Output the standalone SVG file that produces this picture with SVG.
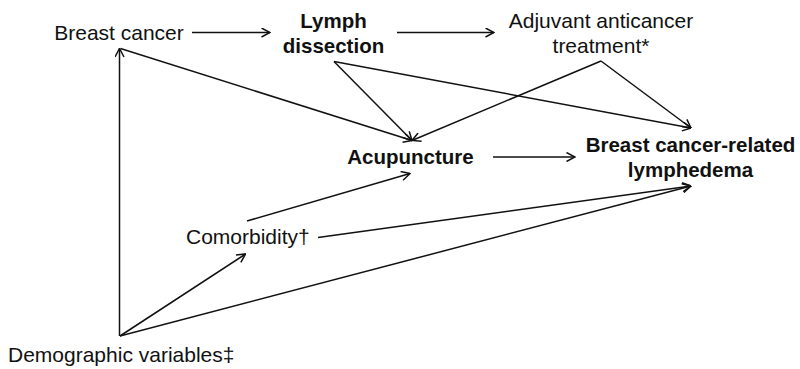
<svg xmlns="http://www.w3.org/2000/svg" width="800" height="369" viewBox="0 0 800 369">
<style>
.t{font-family:"Liberation Sans",Arial,Helvetica,sans-serif;font-size:21px;fill:#111;}
.b{font-family:"Liberation Sans",Arial,Helvetica,sans-serif;font-size:20.5px;font-weight:bold;fill:#111;}
.m{text-anchor:middle;}
.c line{stroke:#111;stroke-width:1.5;fill:none;marker-end:url(#ah);}
</style>
<defs>
<marker id="ah" viewBox="0 0 10 10" refX="9.5" refY="5" markerWidth="10" markerHeight="10" markerUnits="userSpaceOnUse" orient="auto">
<path d="M1,0.5 L9.5,5 L1,9.5" fill="none" stroke="#111" stroke-width="1.5"/>
</marker>
</defs>
<rect width="800" height="369" fill="#fff"/>
<g id="connectors" class="c">
<line x1="192" y1="32.5" x2="270" y2="32.5"/>
<line x1="397" y1="32.5" x2="494" y2="32.5"/>
<line x1="493" y1="157" x2="575" y2="157"/>
<line x1="119.5" y1="336" x2="119.5" y2="48.5"/>
<line x1="120.5" y1="48.5" x2="412" y2="140.5"/>
<line x1="334" y1="61.5" x2="412" y2="140.5"/>
<line x1="334" y1="61.5" x2="691" y2="128"/>
<line x1="601" y1="61" x2="412" y2="140.5"/>
<line x1="601" y1="61" x2="691" y2="128"/>
<line x1="247" y1="221" x2="410" y2="173.5"/>
<line x1="318" y1="237.5" x2="691" y2="186"/>
<line x1="120" y1="336" x2="245.5" y2="254"/>
<line x1="120" y1="336" x2="691" y2="186"/>
</g>
<g id="breast-cancer"><text class="t m" x="119" y="40">Breast cancer</text></g>
<g id="lymph-dissection"><text class="b m" x="333.5" y="28">Lymph</text><text class="b m" x="333.5" y="52.5">dissection</text></g>
<g id="adjuvant"><text class="t m" x="601" y="28">Adjuvant anticancer</text><text class="t m" x="601" y="52.5">treatment*</text></g>
<g id="acupuncture"><text class="b m" x="410.5" y="164">Acupuncture</text></g>
<g id="bcrl"><text class="b m" x="690.5" y="152">Breast cancer-related</text><text class="b m" x="690.5" y="177">lymphedema</text></g>
<g id="comorbidity"><text class="t" x="186" y="244">Comorbidity†</text></g>
<g id="demographic"><text class="t" x="8" y="361.5">Demographic variables‡</text></g>
</svg>
